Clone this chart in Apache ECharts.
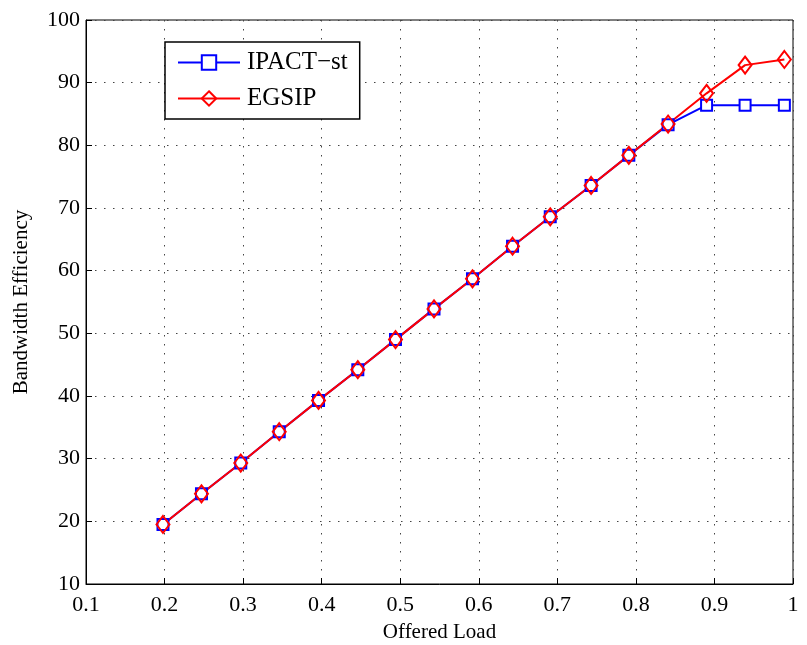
<!DOCTYPE html>
<html>
<head>
<meta charset="utf-8">
<script src="https://cdn.jsdelivr.net/npm/echarts@6/dist/echarts.min.js"></script>
<style>
html, body { margin: 0; padding: 0; background: #fff; }
#chart { width: 807px; height: 645px; }
</style>
</head>
<body>
<div id="chart"></div>
<script>
// offered load values (x)
var loads = [0.198, 0.247, 0.297, 0.346, 0.396, 0.446, 0.494, 0.543, 0.592, 0.643,
             0.691, 0.743, 0.791, 0.841, 0.890, 0.939, 0.989];
var ipactSt = [19.5, 24.4, 29.3, 34.3, 39.3, 44.2, 49.0, 53.9, 58.7, 63.9,
               68.6, 73.6, 78.4, 83.3, 86.4, 86.4, 86.4];
var egsip = [19.5, 24.4, 29.3, 34.3, 39.3, 44.2, 49.0, 53.9, 58.7, 63.9,
             68.6, 73.6, 78.4, 83.4, 88.3, 92.8, 93.7];

function pairs(xs, ys) {
    var out = [];
    for (var i = 0; i < xs.length; i++) out.push([xs[i], ys[i]]);
    return out;
}

var font = "Liberation Serif";
var gridDots = { color: '#444', type: [1.5, 7.5], width: 1 };
var myChart = echarts.init(document.getElementById('chart'));
var option = {
    animation: false,
    backgroundColor: '#fff',
    grid: {
        left: 86, right: 14, top: 20, bottom: 61,
        outerBoundsMode: 'none',
        containLabel: false,
        show: true, borderColor: '#000', borderWidth: 1
    },
    legend: {
        orient: 'vertical',
        left: 165, top: 42,
        backgroundColor: '#fff',
        borderColor: '#000',
        borderWidth: 1.5,
        padding: [8, 12, 8, 12],
        itemGap: 11,
        itemWidth: 62,
        itemHeight: 18,
        textStyle: { fontFamily: font, fontSize: 25, lineHeight: 25, color: '#000', padding: [0, 0, 0, 2] },
        data: ['IPACT\u2212st', 'EGSIP']
    },
    xAxis: {
        type: 'value',
        min: 0.1, max: 1, interval: 0.1,
        name: 'Offered Load',
        nameLocation: 'middle',
        nameGap: 38,
        nameTextStyle: { fontFamily: font, fontSize: 21, color: '#000' },
        axisLine: { lineStyle: { color: '#000' } },
        axisTick: { inside: true, length: 6, lineStyle: { color: '#000' } },
        axisLabel: {
            fontFamily: font, fontSize: 22, color: '#000', margin: 10,
            formatter: function (v) { return String(+v.toFixed(1)); }
        },
        splitLine: { show: true, lineStyle: gridDots }
    },
    yAxis: {
        type: 'value',
        min: 10, max: 100, interval: 10,
        name: 'Bandwidth Efficiency',
        nameLocation: 'middle',
        nameGap: 54,
        nameTextStyle: { fontFamily: font, fontSize: 21, color: '#000' },
        axisLine: { show: true, lineStyle: { color: '#000' } },
        axisTick: { show: true, inside: true, length: 6, lineStyle: { color: '#000' } },
        axisLabel: { fontFamily: font, fontSize: 22, color: '#000', margin: 6 },
        splitLine: { show: true, lineStyle: gridDots }
    },
    series: [{
        name: 'IPACT\u2212st',
        type: 'line',
        data: pairs(loads, ipactSt),
        symbol: 'rect',
        symbolSize: 11,
        lineStyle: { color: '#0000ff', width: 2 },
        itemStyle: { color: '#fff', borderColor: '#0000ff', borderWidth: 2 }
    }, {
        name: 'EGSIP',
        type: 'line',
        data: pairs(loads, egsip),
        symbol: 'diamond',
        symbolSize: [13, 17],
        lineStyle: { color: '#ff0000', width: 2 },
        itemStyle: { color: 'rgba(0,0,0,0)', borderColor: '#ff0000', borderWidth: 2 }
    }]
};
myChart.setOption(option);
</script>
</body>
</html>
